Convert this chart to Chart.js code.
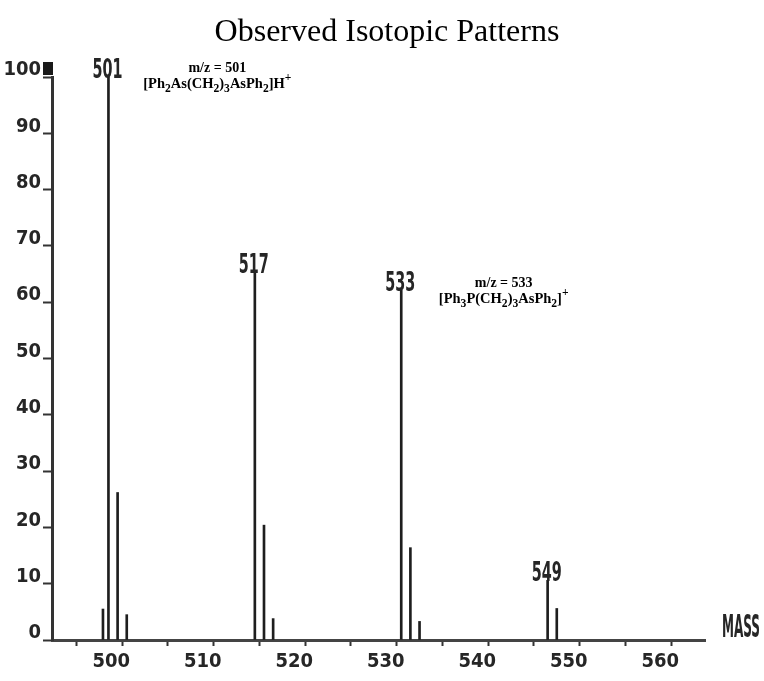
<!DOCTYPE html>
<html>
<head>
<meta charset="utf-8">
<style>
html,body{margin:0;padding:0;background:#fff}
#wrap{width:764px;height:681px}
</style>
<script src="https://cdn.jsdelivr.net/npm/chart.js@4/dist/chart.umd.min.js"></script>
</head>
<body>
<div id="wrap"><canvas id="c" width="764" height="681"></canvas></div>
<script>
// ---- data ----
const titleText = 'Observed Isotopic Patterns';
const xAxisLabel = 'MASS';
const masses      = [500.4, 501, 502, 503, 517, 518, 519, 533, 534, 535, 549, 550];
const intensities = [5.5, 100, 26.2, 4.5, 65.3, 20.4, 3.8, 62.1, 16.4, 3.3, 10.6, 5.6];
const labeledMasses = [501, 517, 533, 549];
const yTickStep = 10;
const xTickStep = 5;
const xLabelStep = 10;
// annotation texts: [text, style] segments
const ann1Line1 = [['m/z = 501', '']];
const ann1Line2 = [['[Ph',''],['2','sub'],['As(CH',''],['2','sub'],[')',''],['3','sub'],['AsPh',''],['2','sub'],[']H',''],['+','sup']];
const ann2Line1 = [['m/z = 533', '']];
const ann2Line2 = [['[Ph',''],['3','sub'],['P(CH',''],['2','sub'],[')',''],['3','sub'],['AsPh',''],['2','sub'],[']',''],['+','sup']];

const NARROW = "'Liberation Sans Narrow', 'DejaVu Sans Condensed', 'Arial Narrow', sans-serif";
const SERIF = "'Liberation Serif', 'Times New Roman', serif";
const INK = '#262626';

function drawRich(ctx, segs, cx, baseline, size) {
  const parts = segs.map(([t, s]) => {
    const fs = s ? size * 0.8 : size;
    ctx.font = 'bold ' + fs + 'px ' + SERIF;
    return {t, s, fs, w: ctx.measureText(t).width};
  });
  const total = parts.reduce((a, p) => a + p.w, 0);
  let x = cx - total / 2;
  ctx.textAlign = 'left';
  ctx.textBaseline = 'alphabetic';
  for (const p of parts) {
    ctx.font = 'bold ' + p.fs + 'px ' + SERIF;
    const dy = p.s === 'sub' ? size * 0.25 : (p.s === 'sup' ? -size * 0.5 : 0);
    ctx.fillText(p.t, x, baseline + dy);
    x += p.w;
  }
}

function drawCondensed(ctx, text, cx, baseline, size, targetWidth, align) {
  ctx.save();
  ctx.font = 'bold ' + size + 'px ' + NARROW;
  const w = ctx.measureText(text).width;
  const k = targetWidth / w;
  const left = align === 'left' ? cx : cx - targetWidth / 2;
  ctx.translate(left, baseline);
  ctx.scale(k, 1);
  ctx.textAlign = 'left';
  ctx.textBaseline = 'alphabetic';
  ctx.fillText(text, 0, 0);
  ctx.restore();
}

const bgPlugin = {
  id: 'bg',
  beforeDraw(chart) {
    const c = chart.ctx;
    c.save(); c.fillStyle = '#fff'; c.fillRect(0, 0, chart.width, chart.height); c.restore();
  }
};

const decoPlugin = {
  id: 'deco',
  afterDraw(chart) {
    const c = chart.ctx, xs = chart.scales.x, ys = chart.scales.y, ca = chart.chartArea;
    c.save();
    c.fillStyle = '#000';
    // title
    c.font = '32px ' + SERIF;
    c.textAlign = 'center';
    c.textBaseline = 'alphabetic';
    c.fillText(titleText, 387, 41);
    // block marker at top of y axis
    c.fillStyle = '#1a1a1a';
    c.fillRect(ca.left - 9, ys.getPixelForValue(100) - 15, 10, 13);
    // peak labels
    c.fillStyle = INK;
    labeledMasses.forEach(m => {
      const i = masses.indexOf(m);
      const px = xs.getPixelForValue(m);
      const py = ys.getPixelForValue(intensities[i]);
      drawCondensed(c, String(m), px - 1, py + 1, 27, 30);
    });
    // MASS axis label
    drawCondensed(c, xAxisLabel, ca.right + 17, ys.getPixelForValue(0) - 3, 32, 38, 'left');
    // annotations
    c.fillStyle = '#000';
    const a1x = xs.getPixelForValue(512.9), a1y = ys.getPixelForValue(100.9);
    drawRich(c, ann1Line1, a1x, a1y, 14);
    drawRich(c, ann1Line2, a1x, a1y + 16, 14.5);
    const a2x = xs.getPixelForValue(544.2), a2y = ys.getPixelForValue(62.7);
    drawRich(c, ann2Line1, a2x, a2y, 14);
    drawRich(c, ann2Line2, a2x, a2y + 16, 14.5);
    c.restore();
  }
};

const tickFont = {family: NARROW, size: 20, weight: 'bold'};

new Chart(document.getElementById('c'), {
  type: 'bar',
  data: {
    datasets: [{
      data: masses.map((m, i) => ({x: m, y: intensities[i]})),
      backgroundColor: '#1e1e1e',
      borderWidth: 0,
      barThickness: 2,
      grouped: false
    }]
  },
  options: {
    responsive: false,
    animation: false,
    events: [],
    layout: {padding: {top: 77, right: 59, left: 0, bottom: 0}},
    plugins: {legend: {display: false}, tooltip: {enabled: false}, title: {display: false}},
    scales: {
      x: {
        type: 'linear',
        min: 494.83,
        max: 566.2,
        offset: false,
        ticks: {
          stepSize: xTickStep,
          includeBounds: false,
          autoSkip: false,
          maxRotation: 0,
          minRotation: 0,
          callback: v => (Math.round(v) % xLabelStep === 0 ? String(Math.round(v)) : ''),
          font: tickFont,
          color: INK,
          labelOffset: 12,
          padding: 4
        },
        grid: {drawOnChartArea: false, drawTicks: true, tickLength: 6, tickColor: '#333', tickWidth: 2},
        border: {color: '#444', width: 3},
        afterFit(s) { s.height = 41; }
      },
      y: {
        min: 0,
        max: 100,
        ticks: {stepSize: yTickStep, font: tickFont, color: INK, labelOffset: -7, padding: 2},
        grid: {drawOnChartArea: false, drawTicks: true, tickLength: 9, tickColor: '#333', tickWidth: 2},
        border: {color: '#333', width: 3},
        afterFit(s) { s.width = 52; }
      }
    }
  },
  plugins: [bgPlugin, decoPlugin]
});
</script>
</body>
</html>
